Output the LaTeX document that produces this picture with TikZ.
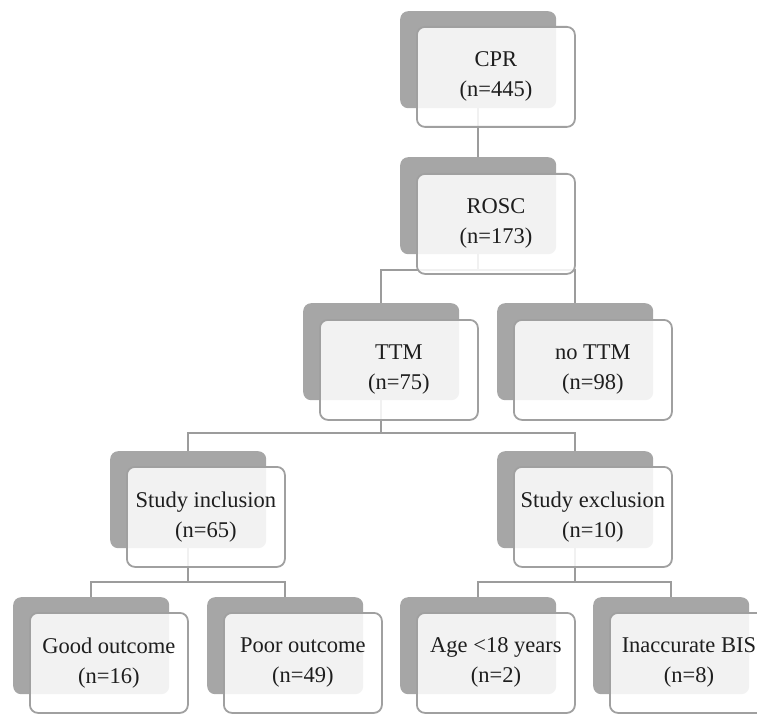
\documentclass[tikz,border=0pt]{standalone}
\usepackage{fontspec}
\setmainfont{Liberation Serif}
\usetikzlibrary{backgrounds}
\definecolor{darkbox}{HTML}{A6A6A6}
\definecolor{edgegray}{HTML}{A0A0A0}
\definecolor{linegray}{HTML}{9C9C9C}
\definecolor{txt}{HTML}{1E1E1E}
\begin{document}
\begin{tikzpicture}[x=1pt,y=-1pt,
  backbox/.style={rectangle,rounded corners=8pt,fill=darkbox,minimum width=156pt,minimum height=97pt,anchor=north west,inner sep=0pt},
  frontbox/.style={rectangle,rounded corners=8pt,draw=edgegray,line width=1.8pt,fill=white,fill opacity=0.86,draw opacity=1,text opacity=1,minimum width=158pt,minimum height=100pt,anchor=north west,inner sep=0pt,align=center,font=\fontsize{22.5}{30}\selectfont,text=txt},
  link/.style={draw=linegray,line width=1.9pt}]
\useasboundingbox (0,0) rectangle (757,714);
\clip (0,0) rectangle (757,714);
% CPR
\node[backbox] (cprB) at (400,11) {};
\node[frontbox] (cpr) at (416,26) {CPR\\(n=445)};
% ROSC
\node[backbox] (roscB) at (400,157) {};
\node[frontbox] (rosc) at (416,173) {ROSC\\(n=173)};
% TTM
\node[backbox] (ttmB) at (303,303) {};
\node[frontbox] (ttm) at (319,319) {TTM\\(n=75)};
\node[backbox] (nottmB) at (497,303) {};
\node[frontbox] (nottm) at (513,319) {no TTM\\(n=98)};
% inclusion / exclusion
\node[backbox] (inclB) at (110,451) {};
\node[frontbox] (incl) at (126,466) {Study inclusion\\(n=65)};
\node[backbox] (exclB) at (497,451) {};
\node[frontbox] (excl) at (513,466) {Study exclusion\\(n=10)};
% bottom row
\node[backbox] (goodB) at (13,597) {};
\node[frontbox] (good) at (29,612) {Good outcome\\(n=16)};
\node[backbox] (poorB) at (207,597) {};
\node[frontbox] (poor) at (223,612) {Poor outcome\\(n=49)};
\node[backbox] (ageB) at (400,597) {};
\node[frontbox] (age) at (416,612) {Age <18 years\\(n=2)};
\node[backbox] (bisB) at (593,597) {};
\node[frontbox] (bis) at (609,612) {Inaccurate BIS\\(n=8)};
% connectors
\begin{scope}[on background layer]
\draw[link] (cprB.south) -- (roscB.north);
\coordinate (j1) at ([yshift=-16pt]roscB.south);
\draw[link] (roscB.south) -- (j1);
\draw[link] (ttmB.north) |- (j1) -| (nottmB.north);
\coordinate (j2) at ([yshift=-33pt]ttmB.south);
\draw[link] (ttmB.south) -- (j2);
\draw[link] (inclB.north) |- (j2) -| (exclB.north);
\coordinate (j3) at ([yshift=-34pt]inclB.south);
\draw[link] (inclB.south) -- (j3);
\draw[link] (goodB.north) |- (j3) -| (poorB.north);
\coordinate (j4) at ([yshift=-34pt]exclB.south);
\draw[link] (exclB.south) -- (j4);
\draw[link] (ageB.north) |- (j4) -| (bisB.north);
\end{scope}
\end{tikzpicture}
\end{document}
